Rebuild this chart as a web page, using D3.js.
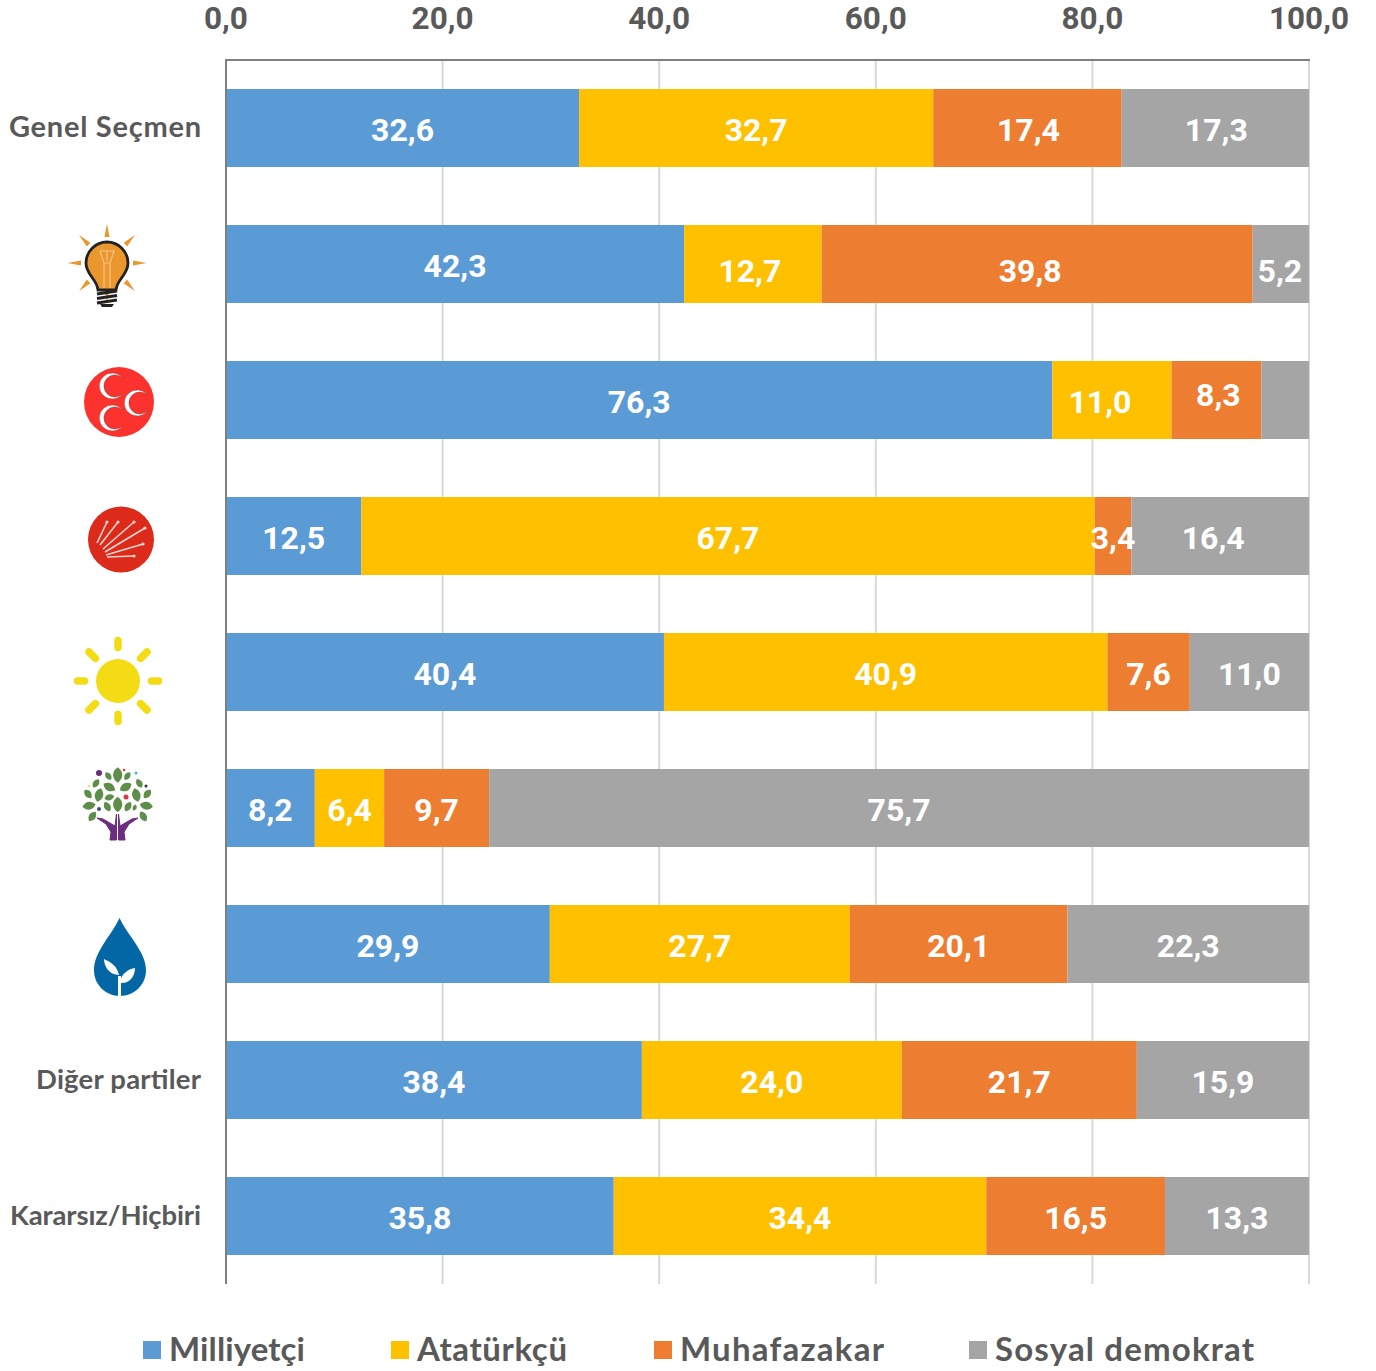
<!DOCTYPE html>
<html><head><meta charset="utf-8">
<script src="https://cdn.jsdelivr.net/npm/d3@7/dist/d3.min.js"></script>
<style>html,body{margin:0;padding:0;background:#fff}svg{display:block}</style>
</head><body><div id="c"></div>
<script>
const categories = ["Genel Seçmen","AKP","MHP","CHP","İYİ","HDP","Saadet","Diğer partiler","Kararsız/Hiçbiri"];
const seriesNames = ["Milliyetçi","Atatürkçü","Muhafazakar","Sosyal demokrat"];
const milliyetci = [32.6,42.3,76.3,12.5,40.4,8.2,29.9,38.4,35.8];
const ataturkcu  = [32.7,12.7,11.0,67.7,40.9,6.4,27.7,24.0,34.4];
const muhafazakar= [17.4,39.8,8.3,3.4,7.6,9.7,20.1,21.7,16.5];
const sosyal     = [17.3,5.2,4.4,16.4,11.0,75.7,22.3,15.9,13.3];
const ticks = [0,20,40,60,80,100];
const colors = ["#5B9BD5","#FFC000","#ED7D31","#A5A5A5"];
const labelNudge = {"0-2":[1,0],"0-3":[1,0],"1-1":[-3,5],"1-2":[-7,5],"1-3":[-1,5],"2-1":[-12,0],"2-2":[2,-7],"3-2":[0,0],"3-3":[-7,0]};
const hiddenLabel = "2-3";

const W=1376,H=1371;
const svg=d3.select("#c").append("svg").attr("width",W).attr("height",H).attr("viewBox",`0 0 ${W} ${H}`);
const x=d3.scaleLinear().domain([0,100]).range([226,1309]);
const y=d3.scaleBand().domain(categories).range([60,1284]).paddingInner(58/136).paddingOuter(29/136);
const fmt=v=>d3.format(".1f")(v).replace(".",",");
const series=[milliyetci,ataturkcu,muhafazakar,sosyal];
const numFont="Roboto, sans-serif", txtFont="Lato, sans-serif";

// gridlines
svg.append("g").selectAll("line").data(ticks.slice(1)).join("line")
  .attr("x1",x).attr("x2",x).attr("y1",60).attr("y2",1284)
  .attr("stroke","#D9D9D9").attr("stroke-width",2);
// tick labels
svg.append("g").selectAll("text").data(ticks).join("text")
  .attr("x",x).attr("y",28.8).attr("text-anchor","middle")
  .attr("font-family",numFont).attr("font-weight",700).attr("font-size",31.5).attr("fill","#595959")
  .text(fmt);

// bars (100% stacked: each row is normalised to its own total)
const barLayer=svg.append("g"), labelLayer=svg.append("g");
categories.forEach((c,i)=>{
  const total=d3.sum(series,s=>s[i]);
  let acc=0;
  series.forEach((s,k)=>{
    const v=s[i],x0=x(acc/total*100),x1=x((acc+v)/total*100);
    acc+=v;
    barLayer.append("rect").attr("x",x0).attr("y",y(c)).attr("width",x1-x0).attr("height",y.bandwidth()).attr("fill",colors[k]);
    if(i+"-"+k===hiddenLabel) return;
    const n=labelNudge[i+"-"+k]||[0,0];
    labelLayer.append("text").attr("x",(x0+x1)/2+n[0]).attr("y",y(c)+y.bandwidth()/2+13+n[1])
      .attr("text-anchor","middle").attr("font-family",numFont).attr("font-weight",700).attr("font-size",32)
      .attr("fill","#fff").text(fmt(v));
  });
});

// axes lines
const ax=svg.append("g").attr("stroke","#7F7F7F").attr("stroke-width",2);
ax.append("line").attr("x1",226).attr("x2",226).attr("y1",59).attr("y2",1284);
ax.append("line").attr("x1",225).attr("x2",1310).attr("y1",60).attr("y2",60);

// text categories
const textCats={0:[192,29],7:[165,27.5],8:[191,27.5]};
categories.forEach((c,i)=>{
  if(!textCats[i])return;
  svg.append("text").attr("x",201).attr("y",y(c)+y.bandwidth()/2+9).attr("text-anchor","end")
    .attr("textLength",textCats[i][0]).attr("lengthAdjust","spacing")
    .attr("font-family",txtFont).attr("font-weight",700).attr("font-size",textCats[i][1]).attr("fill","#595959").text(c);
});

// legend
const legendPos=[[143,169,136],[391,417,150],[654,680,204],[969,995,259]];
seriesNames.forEach((n,i)=>{
  svg.append("rect").attr("x",legendPos[i][0]).attr("y",1341).attr("width",18).attr("height",18).attr("fill",colors[i]);
  svg.append("text").attr("x",legendPos[i][1]).attr("y",1361).attr("textLength",legendPos[i][2]).attr("lengthAdjust","spacing")
    .attr("font-family",txtFont).attr("font-weight",700)
    .attr("font-size",33).attr("fill","#595959").text(n);
});

// ---- logos ----
// AKP
(function(){
  const g=svg.append("g").attr("transform","translate(107,263)");
  d3.range(8).forEach(k=>{
    g.append("path").attr("d",`M-2.5,-26 L0,-39.5 L2.5,-26 Z`).attr("fill","#EC972D").attr("transform",`rotate(${k*45})`);
  });
  g.append("path").attr("d","M-9,27 C-10,16 -21,12 -21,0 A21,21 0 0 1 21,0 C21,12 10,16 9,27 Z")
    .attr("fill","#EC972D").attr("stroke","#222").attr("stroke-width",2.8);
  g.append("path").attr("d","M-7,-12 L7,-12 L3,0 L3,25 M-7,-12 L-3,0 L-3,25 M-3,0 L3,0 M0,-12 L0,-2").attr("fill","none").attr("stroke","#F6C489").attr("stroke-width",1.2);
  [31,35.5,40].forEach(yy=>g.append("path").attr("d",`M-10,${yy} L10,${yy-3}`).attr("stroke","#222").attr("stroke-width",3.2).attr("fill","none"));
  g.append("path").attr("d","M-7,41 L7,41 L5,44 L-5,44Z").attr("fill","#222");
})();
// MHP
(function(){
  const g=svg.append("g");
  g.append("circle").attr("cx",119).attr("cy",402).attr("r",35).attr("fill","#FB322D");
  [[111,386],[136,403],[111,418]].forEach(p=>{
    g.append("path").attr("transform",`translate(${p[0]},${p[1]})`)
      .attr("d","M11.5,-8 A13,13 0 1 0 11.5,8 A11,11 0 1 1 11.5,-8 Z").attr("fill","#fff").attr("stroke","#8a3a38").attr("stroke-width",.5);
  });
})();
// CHP
(function(){
  const g=svg.append("g");
  g.append("circle").attr("cx",121).attr("cy",539.5).attr("r",33).attr("fill","#DC2A1B");
  const ends=[[107,522],[118,522],[134,522],[145,528],[143,544],[134,556]];
  const starts=[[97,543],[100,545],[103,549],[105,552],[106,555],[107,557]];
  ends.forEach((e,i)=>{
    g.append("line").attr("x1",starts[i][0]).attr("y1",starts[i][1]).attr("x2",e[0]).attr("y2",e[1]).attr("stroke","#F6D5CF").attr("stroke-width",1.6);
    g.append("circle").attr("cx",e[0]).attr("cy",e[1]).attr("r",1.6).attr("fill","#F6D5CF");
  });
})();
// IYI sun
(function(){
  const g=svg.append("g").attr("transform","translate(118,681)");
  g.append("circle").attr("r",22).attr("fill","#F4DC14");
  d3.range(8).forEach(k=>{
    g.append("line").attr("x1",0).attr("x2",0).attr("y1",k%2?-32:-33.5).attr("y2",k%2?-41:-40.5)
      .attr("transform",`rotate(${k*45})`).attr("stroke","#F4DC14").attr("stroke-width",7.5).attr("stroke-linecap","round");
  });
})();
// HDP tree
(function(){
  const g=svg.append("g");
  const leaves=[[233,465,46,0],[205,468,28,-35],[262,468,28,35],[168,490,30,35],[298,490,30,-30],[208,501,40,-60],[257,501,40,60],[177,525,42,15],[289,525,42,-15],[144,522,32,-40],[322,522,32,40],[233,553,46,0],[208,532,30,75],[202,560,32,-30],[264,560,32,30],[147,557,40,80],[319,557,40,-80],[157,589,34,35],[310,589,34,-30],[284,563,20,20]];
  leaves.forEach(l=>{
    const h=l[2]/6;
    g.append("path").attr("transform",`translate(${40+l[0]/3},${620+l[1]/3}) rotate(${l[3]})`)
      .attr("d",`M0,${-h} C${h*.8},${-h*.45} ${h*.8},${h*.45} 0,${h} C${-h*.8},${h*.45} ${-h*.8},${-h*.45} 0,${-h}Z`).attr("fill","#5F8D4A");
  });
  // hands
  g.append("path").attr("d","M110,840 L116.5,840 L116.5,814 L115,826 L103,819 L97,818 L106,824 L111,832 Z M125,840 L118.5,840 L118.5,814 L120,826 L132,819 L138,818 L129,824 L124,832 Z")
    .attr("fill","#6C2C7F").attr("stroke","#6C2C7F").attr("stroke-width",1);
  [[99,773,"#6C2C7F",3],[126,797,"#D93A45",2.5],[99,809,"#3C4A9E",2],[136,773,"#38B6E0",1.5],[146,786,"#333",1.5],[124,770,"#D93A45",1.3],[89,786,"#F4DC60",1.2]].forEach(d=>{
    g.append("circle").attr("cx",d[0]).attr("cy",d[1]).attr("r",d[3]).attr("fill",d[2]);
  });
})();
// Saadet drop
(function(){
  const g=svg.append("g");
  g.append("path").attr("d","M119.5,918 C111,936 94,952 94,970 C94,985 106,996 120,996 C134,996 146,985 146,970 C146,952 128,936 119.5,918 Z").attr("fill","#0367A6");
  g.append("path").attr("d","M118,996 L118,976 L121,976 L121,996 Z").attr("fill","#fff");
  g.append("path").attr("d","M119,975 C117,965 110,962 104,959 C104,966 109,975 119,975 Z").attr("fill","#fff");
  g.append("path").attr("d","M120,983 C121,973 129,969 135,968 C135,976 130,984 120,983 Z").attr("fill","#fff");
})();
</script></body></html>
